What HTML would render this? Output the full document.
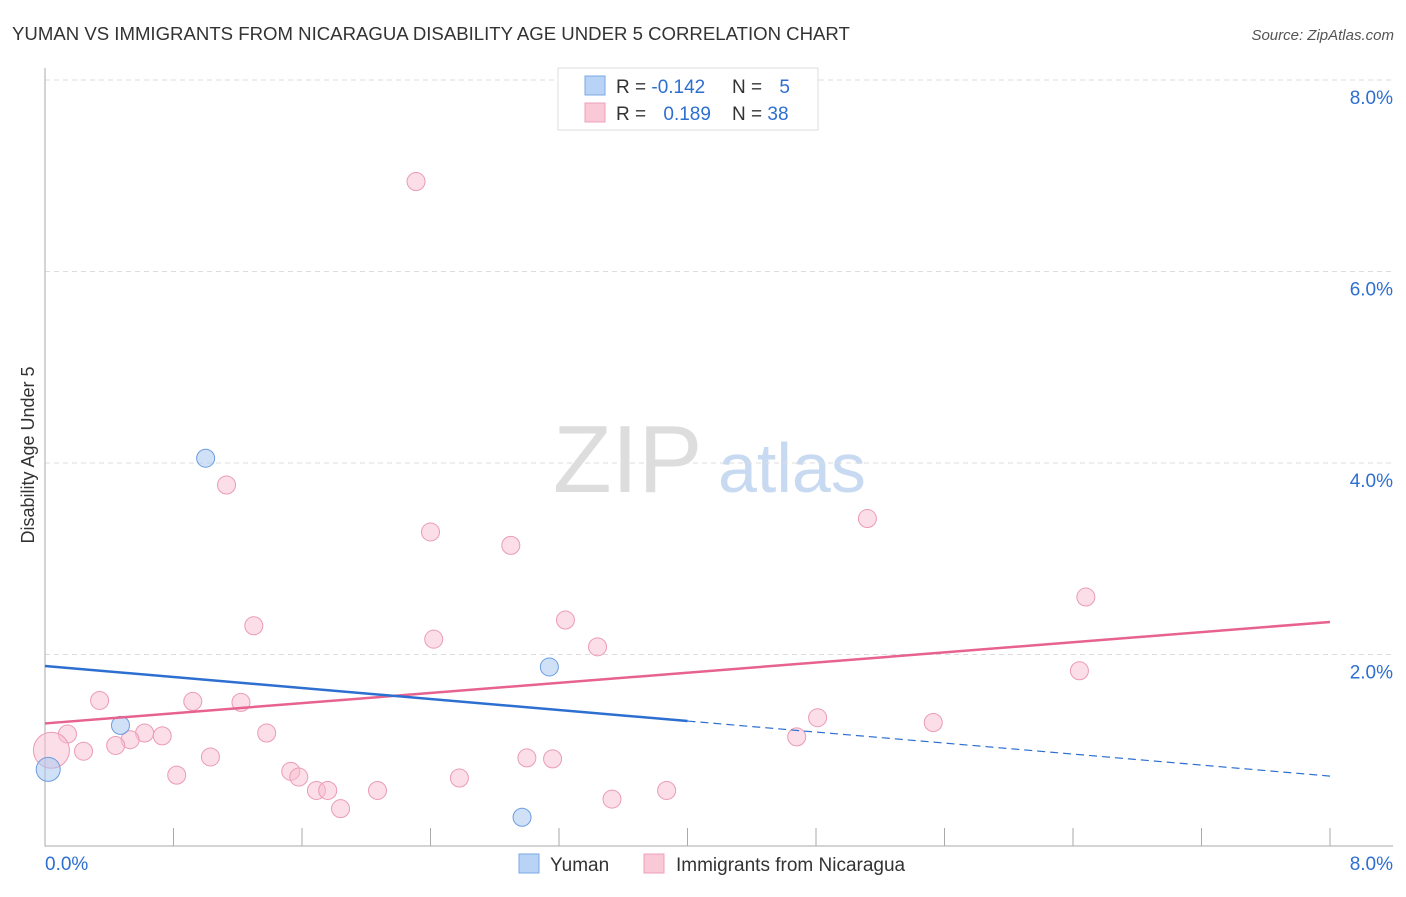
<!DOCTYPE html>
<html><head><meta charset="utf-8"><style>
body{margin:0;background:#fff;font-family:"Liberation Sans",sans-serif;}
svg text{font-family:"Liberation Sans",sans-serif;}
</style></head><body>
<svg id="c" width="1406" height="892">
<text x="12" y="40" font-size="18.6" fill="#333">YUMAN VS IMMIGRANTS FROM NICARAGUA DISABILITY AGE UNDER 5 CORRELATION CHART</text>
<text x="1394" y="40" font-size="15" fill="#555" font-style="italic" text-anchor="end">Source: ZipAtlas.com</text>
<text x="34" y="455" font-size="18" fill="#333" transform="rotate(-90 34 455)" text-anchor="middle">Disability Age Under 5</text>
<text x="553" y="492" font-size="96" fill="#ddd" font-family="Liberation Serif">ZIP</text>
<text x="718" y="492" font-size="70" fill="#c8daf2">atlas</text>
<g id="grid"></g><g id="marks"></g>
<g>
<rect x="558" y="68" width="260" height="62" fill="#fff" stroke="#ddd"/>
<rect x="585" y="76" width="20" height="19" fill="#b8d3f5" stroke="#7aa9e6"/>
<rect x="585" y="103" width="20" height="19" fill="#f9c9d7" stroke="#eea0b8"/>
<text x="616" y="93" font-size="19" fill="#333">R = <tspan fill="#2d6fd1">-0.142</tspan></text>
<text x="732" y="93" font-size="19" fill="#333">N = <tspan fill="#2d6fd1" dx="12">5</tspan></text>
<text x="616" y="120" font-size="19" fill="#333">R = <tspan fill="#2d6fd1" dx="12">0.189</tspan></text>
<text x="732" y="120" font-size="19" fill="#333">N = <tspan fill="#2d6fd1">38</tspan></text>
</g>
<g>
<rect x="519" y="854" width="20" height="19" fill="#b8d3f5" stroke="#7aa9e6"/>
<text x="550" y="871" font-size="19" fill="#333">Yuman</text>
<rect x="644" y="854" width="20" height="19" fill="#f9c9d7" stroke="#eea0b8"/>
<text x="676" y="871" font-size="19" fill="#333">Immigrants from Nicaragua</text>
</g>
</svg>
<script>
const yTicks=[2,4,6,8];
const yTickLabels=["2.0%","4.0%","6.0%","8.0%"];
const xTickLabels=["0.0%","8.0%"];
const pinkX=[2.31,1.13,2.40,2.90,5.12,6.48,1.30,2.42,3.24,3.44,6.44,0.34,0.92,1.22,4.81,5.53,0.14,1.38,0.62,0.73,0.53,0.44,0.24,4.68,0.04,1.03,3.00,3.16,1.53,0.82,1.58,1.69,1.76,2.58,2.07,1.84,3.53,3.87];
const pinkY=[6.94,3.77,3.28,3.14,3.42,2.60,2.30,2.16,2.36,2.08,1.83,1.52,1.51,1.50,1.34,1.29,1.17,1.18,1.18,1.15,1.11,1.05,0.99,1.14,1.00,0.93,0.92,0.91,0.78,0.74,0.72,0.58,0.58,0.71,0.58,0.39,0.49,0.58];
const pinkBig=[24];
const blueX=[1.00,0.47,3.14,0.02,2.97];
const blueY=[4.05,1.26,1.87,0.80,0.30];
const blueBig=[3];
const pinkTrend=[1.28,2.34];
const blueTrend=[1.88,0.73];
const blueSolidEnd=4.0;
const X0=45,X1=1330,Y0=846,Y8=80;
const xs=v=>X0+v/8*(X1-X0);
const ys=v=>Y0-v/8*(Y0-Y8);
const NS="http://www.w3.org/2000/svg";
const grid=document.getElementById('grid'),marks=document.getElementById('marks');
function mk(p,tag,a){const e=document.createElementNS(NS,tag);for(const k in a)e.setAttribute(k,a[k]);p.appendChild(e);return e;}
yTicks.forEach((t,i)=>{
 const l=mk(grid,'line',{x1:X0,x2:1393,y1:ys(t),y2:ys(t),stroke:'#ddd','stroke-dasharray':'5,4'});
 
 
 const tx=mk(grid,'text',{x:1393,y:ys(t)+24,'font-size':19,fill:'#2d6fd1','text-anchor':'end'});
 tx.textContent=yTickLabels[i];
 
 
});
const ax=mk(grid,'path',{d:`M${X0} 68V${Y0}H1393`,stroke:'#aaa',fill:'none'});


for(let i=1;i<=10;i++){const x=xs(i*0.8);const t=mk(grid,'line',{x1:x,x2:x,y1:828,y2:Y0,stroke:'#aaa'});
 
 }
[[xTickLabels[0],X0,'start'],[xTickLabels[1],1393,'end']].forEach(([s,x,a])=>{const t=mk(grid,'text',{x:x,y:870,'font-size':19,fill:'#2d6fd1','text-anchor':a});t.textContent=s;
 
 });
pinkX.forEach((v,i)=>{const c=mk(marks,'circle',{cx:xs(v),cy:ys(pinkY[i]),r:pinkBig.includes(i)?18:9,fill:'rgba(248,190,208,0.5)',stroke:'#eb9bb5','stroke-width':1});
 
 });
blueX.forEach((v,i)=>{const c=mk(marks,'circle',{cx:xs(v),cy:ys(blueY[i]),r:blueBig.includes(i)?12:9,fill:'rgba(170,200,240,0.55)',stroke:'#6a9de0','stroke-width':1});
 
 });
const pl=mk(marks,'line',{x1:xs(0),y1:ys(pinkTrend[0]),x2:xs(8),y2:ys(pinkTrend[1]),stroke:'#e8628e','stroke-width':2.5});


const by=v=>blueTrend[0]+(blueTrend[1]-blueTrend[0])*v/8;
const bl=mk(marks,'line',{x1:xs(0),y1:ys(blueTrend[0]),x2:xs(blueSolidEnd),y2:ys(by(blueSolidEnd)),stroke:'#2d6fd1','stroke-width':2.5});


const bd=mk(marks,'line',{x1:xs(blueSolidEnd),y1:ys(by(blueSolidEnd)),x2:xs(8),y2:ys(blueTrend[1]),stroke:'#2d6fd1','stroke-width':1.2,'stroke-dasharray':'8,5'});


</script>
</body></html>
